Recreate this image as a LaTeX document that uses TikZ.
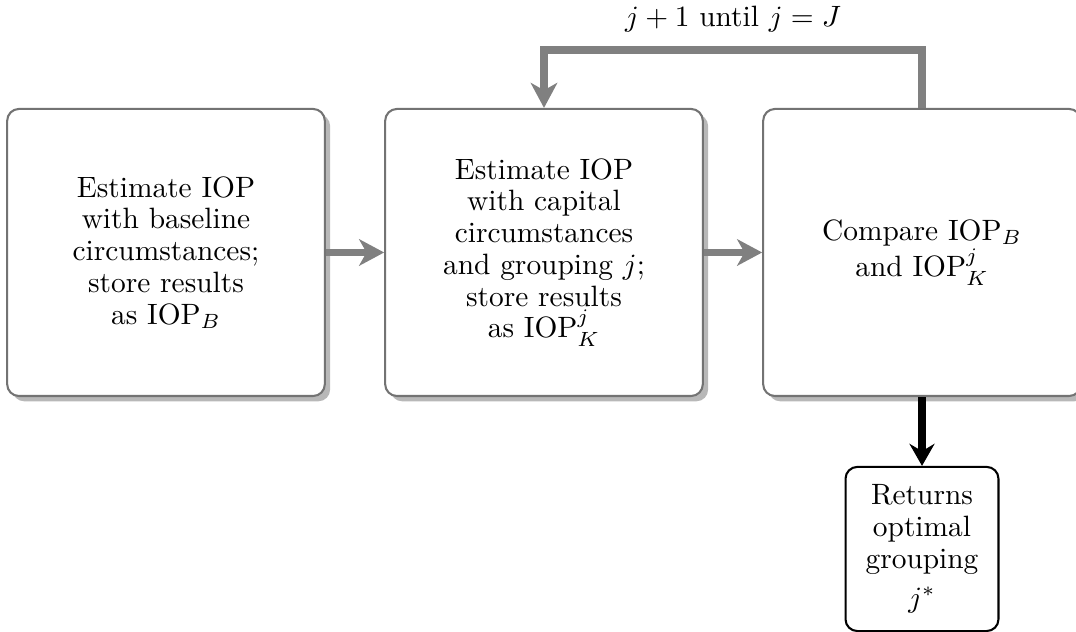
\documentclass[tikz,border=0pt]{standalone}
\usetikzlibrary{arrows.meta,shadows,positioning}
\begin{document}
\begin{tikzpicture}[x=0.34pt,y=-0.34pt,
  every node/.style={font=\fontsize{10}{10.8}\selectfont},
  bigbox/.style={draw=black!55,line width=0.7pt,rounded corners=4pt,fill=white,
    drop shadow={shadow xshift=1.8pt,shadow yshift=-1.8pt,fill=black,opacity=0.28},
    minimum width=108pt,minimum height=97.6pt,align=center,text width=100pt,inner sep=0pt},
  smallbox/.style={draw=black,line width=0.7pt,rounded corners=4pt,fill=white,
    minimum width=52pt,minimum height=55.8pt,align=center,text width=46pt,inner sep=0pt},
  garrow/.style={draw=black!50,line width=2.5pt,-{Stealth[length=8.5pt,width=9pt,inset=2.5pt]}},
  barrow/.style={draw=black,line width=2.5pt,-{Stealth[length=7.5pt,width=8.5pt,inset=2.5pt]}}
]
\useasboundingbox (0,0) rectangle (1076,632);
\node[bigbox] (b1) at (166,252.5) {Estimate IOP\\with baseline\\circumstances;\\store results\\as IOP$_B$};
\node[bigbox] (b2) at (544,252.5) {Estimate IOP\\with capital\\circumstances\\and grouping $j$;\\store results\\as IOP$^j_K$};
\node[bigbox] (b3) at (922,252.5) {Compare IOP$_B$\\and IOP$^j_K$};
\node[smallbox] (ret) at (922,549) {Returns\\optimal\\grouping\\[2.5pt]$j^*$};
\coordinate (top) at (733,50);
\node (lab) at (733,19) {$j+1$ until $j=J$};
\draw[garrow] (b1.east) -- (b2.west);
\draw[garrow] (b2.east) -- (b3.west);
\draw[garrow] (b3.north) -- (b3.north |- top) -| (b2.north);
\draw[barrow] (b3.south) -- (ret.north);
\end{tikzpicture}
\end{document}
